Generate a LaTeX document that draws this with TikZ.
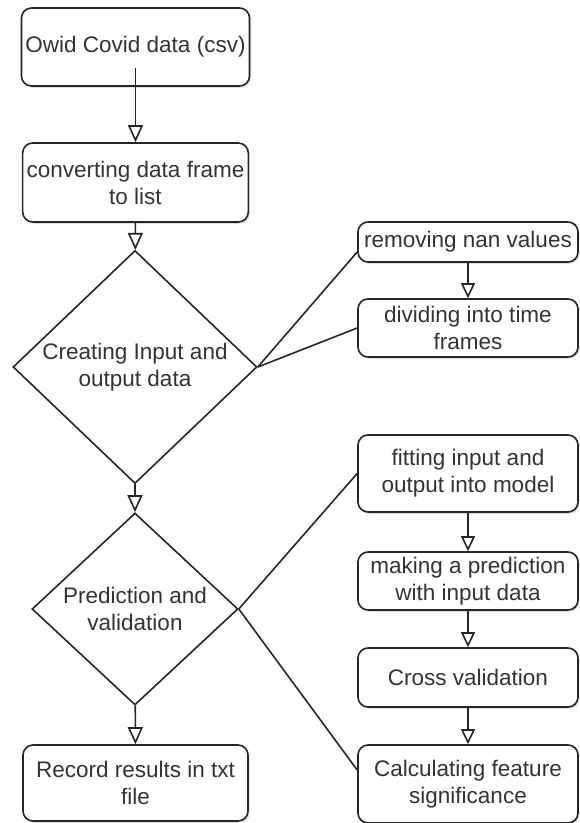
\documentclass[tikz,border=0pt]{standalone}
\usepackage{fontspec}
\setmainfont{Liberation Sans}
\usetikzlibrary{arrows.meta,shapes.geometric,shadows}
\tikzset{
  flow box/.style={draw=black!85,fill=white,rounded corners=5pt,line width=0.8pt,
    align=center,inner sep=2pt,text=black!80,
    font=\fontsize{11.25}{13.5}\selectfont,
    drop shadow={shadow xshift=0.8pt,shadow yshift=-0.9pt,opacity=0.25}},
  flow choice/.style={diamond,draw=black!85,fill=white,line width=0.8pt,
    align=center,inner sep=0pt,text=black!80,
    font=\fontsize{11.25}{13.5}\selectfont},
  flow edge/.style={-{Triangle[open,length=7.5pt,width=7pt]},line width=0.8pt,black!85},
  main edge/.style={flow edge,-{Triangle[open,length=8.5pt,width=7.5pt]}},
  flow link/.style={line width=0.8pt,black!85},
}
\begin{document}
\begin{tikzpicture}[x=0.5pt,y=-0.5pt]
  \useasboundingbox (0,0) rectangle (579,823);
  % main column
  \node[flow box,minimum width=112.5pt,minimum height=39pt] (own) at (135.5,47) {Owid Covid data (csv)};
  \node[flow box,minimum width=112.5pt,minimum height=39.5pt] (conv) at (135.5,182.5) {converting data frame\\to list};
  \node[flow choice,minimum width=122pt,minimum height=105pt] (create) at (135,367) {Creating Input and\\output data};
  \node[flow choice,minimum width=103pt,minimum height=96pt] (pred) at (135,609) {Prediction and\\validation};
  \node[flow box,minimum width=112.5pt,minimum height=38pt] (record) at (135.5,783) {Record results in txt\\file};
  % right column
  \node[flow box,minimum width=110pt,minimum height=20pt] (remove) at (468,242) {removing nan values};
  \node[flow box,minimum width=110pt,minimum height=29pt] (divide) at (468,328) {dividing into time\\frames};
  \node[flow box,minimum width=110pt,minimum height=38.5pt] (fit) at (468,473.5) {fitting input and\\output into model};
  \node[flow box,minimum width=110pt,minimum height=29pt] (make) at (468,581) {making a prediction\\with input data};
  \node[flow box,minimum width=110pt,minimum height=29.5pt] (cross) at (468,677.5) {Cross validation};
  \node[flow box,minimum width=110pt,minimum height=39pt] (calc) at (468,784) {Calculating feature\\significance};
  % arrows
  \draw[main edge] ([yshift=9.5pt]own.south) -- (conv.north);
  \draw[main edge] (conv) -- (create);
  \draw[main edge] (create) -- (pred);
  \draw[main edge] (pred) -- (record);
  \draw[flow edge] (remove) -- (divide);
  \draw[flow edge] (fit) -- (make);
  \draw[flow edge] (make) -- (cross);
  \draw[flow edge] (cross) -- (calc);
  % links to the sub steps
  \draw[flow link] (create.east) -- ([yshift=-5pt]remove.west);
  \draw[flow link] (create.east) -- (divide.west);
  \draw[flow link] (pred.east) -- (fit.west);
  \draw[flow link] (pred.east) -- ([yshift=7pt]calc.west);
\end{tikzpicture}
\end{document}
